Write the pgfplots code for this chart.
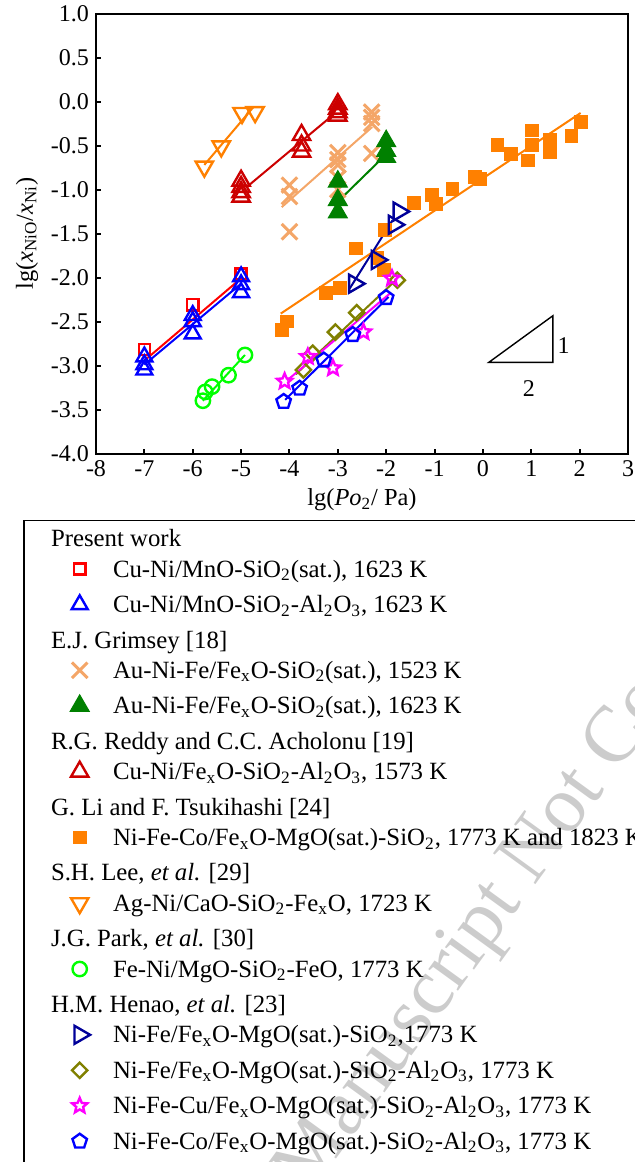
\documentclass[border=0pt]{standalone}
\usepackage{fontspec}
\setmainfont{Liberation Serif}
\usepackage{pgfplots}
\pgfplotsset{compat=1.18}
\usetikzlibrary{plotmarks}

\definecolor{cRed}{RGB}{255,0,0}
\definecolor{cBlue}{RGB}{0,0,255}
\definecolor{cSand}{RGB}{244,166,104}
\definecolor{cGreen}{RGB}{0,128,0}
\definecolor{cDkRed}{RGB}{204,0,0}
\definecolor{cOrange}{RGB}{255,128,0}
\definecolor{cLime}{RGB}{0,255,0}
\definecolor{cNavy}{RGB}{0,0,153}
\definecolor{cOlive}{RGB}{128,128,0}
\definecolor{cMag}{RGB}{255,0,255}

% outlined five-point star
\pgfdeclareplotmark{ostar}{%
  \pgfpathmoveto{\pgfqpointpolar{90}{\pgfplotmarksize}}%
  \pgfpathlineto{\pgfqpointpolar{126}{0.45\pgfplotmarksize}}%
  \pgfpathlineto{\pgfqpointpolar{162}{\pgfplotmarksize}}%
  \pgfpathlineto{\pgfqpointpolar{198}{0.45\pgfplotmarksize}}%
  \pgfpathlineto{\pgfqpointpolar{234}{\pgfplotmarksize}}%
  \pgfpathlineto{\pgfqpointpolar{270}{0.45\pgfplotmarksize}}%
  \pgfpathlineto{\pgfqpointpolar{306}{\pgfplotmarksize}}%
  \pgfpathlineto{\pgfqpointpolar{342}{0.45\pgfplotmarksize}}%
  \pgfpathlineto{\pgfqpointpolar{18}{\pgfplotmarksize}}%
  \pgfpathlineto{\pgfqpointpolar{54}{0.45\pgfplotmarksize}}%
  \pgfpathclose\pgfusepathqstroke}

\pgfplotsset{
  mk/.style={only marks, line width=1.2pt,
    legend image code/.code={\path[draw=none,fill=none] (0pt,0pt) -- (42.5pt,0pt);
      \draw[##1,overlay] plot coordinates {(27.85pt,4pt)};}},
  fit/.style={forget plot, no markers, line width=1pt},
}
\newcommand{\head}[1]{\addlegendimage{empty legend}\addlegendentry[text depth=2.4pt]{\hspace*{-31pt}#1}}

\begin{document}
\begin{tikzpicture}
\useasboundingbox (0,0) rectangle (317pt,-581pt);
% watermark of the source page
\node[rotate=54, text=black!20, font=\fontsize{40}{40}\selectfont] at (230.6pt,-477.6pt) {Accepted Manuscript Not Copyedited};

\begin{axis}[
  at={(48pt,-226.75pt)}, anchor=south west,
  scale only axis, width=266pt, height=220pt,
  xmin=-8, xmax=3, ymin=-4, ymax=1,
  xtick={-8,-7,-6,-5,-4,-3,-2,-1,0,1,2,3},
  ytick={-4,-3.5,-3,-2.5,-2,-1.5,-1,-0.5,0,0.5,1},
  tick align=inside, xtick pos=bottom, ytick pos=left,
  major tick length=2.5pt,
  axis line style={line width=1pt},
  tick style={line width=1pt, black},
  tick label style={font=\fontsize{12}{14}\selectfont},
  xticklabel style={/pgf/number format/assume math mode=true},
  yticklabel style={/pgf/number format/.cd, fixed, fixed zerofill, precision=1, assume math mode=true},
  ylabel={lg(\textit{x}\textsubscript{NiO}/\textit{x}\textsubscript{Ni})},
  xlabel={lg(\textit{Po}\textsubscript{2}/ Pa)},
  every axis y label/.style={at={(axis description cs:-0.1297,0.5)}, rotate=90, anchor=center, font=\fontsize{12.2}{14}\selectfont},
  every axis x label/.style={at={(axis description cs:0.5,-0.1057)}, anchor=center, font=\fontsize{12.2}{14}\selectfont},
  legend style={at={(axis description cs:-0.13665,-0.15114)}, anchor=north west,
    draw=black, line width=0.7pt, fill=none,
    inner xsep=0pt, inner ysep=4pt, row sep=3.75pt, column sep=0pt,
    font=\fontsize{12.4}{14}\selectfont,
    cells={anchor=base west},
    nodes={text height=9pt, text depth=5pt, inner xsep=2pt, inner ysep=0pt}},
]

\head{Present work}
\addplot[mk, color=cRed, mark=square, mark size=2.8pt] coordinates {(-7,-2.82) (-6,-2.31) (-5,-1.96)};
\addlegendentry{Cu-Ni/MnO-SiO\textsubscript{2}(sat.), 1623 K}
\addplot[mk, color=cBlue, mark=triangle, mark size=4.6pt] coordinates {
  (-7,-2.90) (-7,-2.99) (-7,-3.05) (-6,-2.43) (-6,-2.50) (-6,-2.64) (-5,-1.99) (-5,-2.08) (-5,-2.17)};
\addlegendentry{Cu-Ni/MnO-SiO\textsubscript{2}-Al\textsubscript{2}O\textsubscript{3}, 1623 K}

\head{E.J. Grimsey [18]}
\addplot[mk, color=cSand, mark=x, mark size=5.5pt, line width=1.5pt] coordinates {
  (-4,-0.95) (-4,-1.08) (-4,-1.48) (-3,-0.58) (-3,-0.66) (-3,-0.72) (-3,-0.87) (-3,-1.00)
  (-2.3,-0.12) (-2.3,-0.18) (-2.3,-0.25) (-2.3,-0.59)};
\addlegendentry{Au-Ni-Fe/Fe\textsubscript{x}O-SiO\textsubscript{2}(sat.), 1523 K}
\addplot[mk, color=cGreen, mark=triangle*, mark size=5.5pt, line width=0.5pt] coordinates {
  (-3,-0.91) (-3,-1.12) (-3,-1.26) (-2,-0.45) (-2,-0.56) (-2,-0.63)};
\addlegendentry{Au-Ni-Fe/Fe\textsubscript{x}O-SiO\textsubscript{2}(sat.), 1623 K}

\head{R.G. Reddy and C.C. Acholonu [19]}
\addplot[mk, color=cDkRed, mark=triangle, mark size=5pt] coordinates {
  (-5,-0.90) (-5,-0.97) (-5,-1.03) (-5,-1.08) (-3.75,-0.38) (-3.75,-0.50) (-3.75,-0.57)
  (-3,-0.03) (-3,-0.08) (-3,-0.12) (-3,-0.16)};
\addlegendentry{Cu-Ni/Fe\textsubscript{x}O-SiO\textsubscript{2}-Al\textsubscript{2}O\textsubscript{3}, 1573 K}

\head{G. Li and F. Tsukihashi [24]}
\addplot[mk, color=cOrange, mark=square*, mark size=3.2pt, line width=0.5pt] coordinates {
  (0.30,-0.49) (0.58,-0.60) (1.01,-0.33) (1.02,-0.49) (0.94,-0.67) (1.39,-0.44) (1.39,-0.57)
  (1.83,-0.39) (2.02,-0.23) (-0.05,-0.88) (-0.17,-0.86) (-0.63,-0.99) (-1.06,-1.06) (-0.97,-1.16)
  (-1.42,-1.15) (-2.03,-1.46) (-2.62,-1.67) (-2.18,-1.78) (-2.05,-1.91) (-2.96,-2.12) (-3.24,-2.18)
  (-4.05,-2.50) (-4.16,-2.60)};
\addlegendentry{Ni-Fe-Co/Fe\textsubscript{x}O-MgO(sat.)-SiO\textsubscript{2}, 1773 K and 1823 K}

\head{S.H. Lee, \textit{et al.} [29]}
\addplot[mk, color=cOrange, mark=triangle, mark options={rotate=180}, mark size=5pt] coordinates {
  (-5.76,-0.74) (-5.41,-0.51) (-4.98,-0.13) (-4.71,-0.12)};
\addlegendentry{Ag-Ni/CaO-SiO\textsubscript{2}-Fe\textsubscript{x}O, 1723 K}

\head{J.G. Park, \textit{et al.} [30]}
\addplot[mk, color=cLime, mark=o, mark size=3.6pt] coordinates {
  (-5.79,-3.40) (-5.74,-3.30) (-5.60,-3.24) (-5.26,-3.11) (-4.92,-2.88)};
\addlegendentry{Fe-Ni/MgO-SiO\textsubscript{2}-FeO, 1773 K}

\head{H.M. Henao, \textit{et al.} [23]}
\addplot[mk, color=cNavy, mark=triangle, mark options={rotate=-90}, mark size=5.2pt] coordinates {
  (-1.74,-1.25) (-1.84,-1.40) (-2.19,-1.80) (-2.66,-2.07)};
\addlegendentry{Ni-Fe/Fe\textsubscript{x}O-MgO(sat.)-SiO\textsubscript{2},1773 K}
\addplot[mk, color=cOlive, mark=square, mark options={rotate=45}, mark size=2.7pt] coordinates {
  (-3.71,-3.05) (-3.52,-2.86) (-3.05,-2.62) (-2.61,-2.40) (-1.77,-2.03)};
\addlegendentry{Ni-Fe/Fe\textsubscript{x}O-MgO(sat.)-SiO\textsubscript{2}-Al\textsubscript{2}O\textsubscript{3}, 1773 K}
\addplot[mk, color=cMag, mark=ostar, mark size=4pt] coordinates {
  (-4.10,-3.18) (-3.62,-2.90) (-3.10,-3.03) (-2.47,-2.62) (-1.88,-2.01)};
\addlegendentry{Ni-Fe-Cu/Fe\textsubscript{x}O-MgO(sat.)-SiO\textsubscript{2}-Al\textsubscript{2}O\textsubscript{3}, 1773 K}
\addplot[mk, color=cBlue, mark=pentagon, mark size=3.8pt] coordinates {
  (-4.12,-3.41) (-3.79,-3.26) (-3.29,-2.94) (-2.69,-2.65) (-2.00,-2.23)};
\addlegendentry[text depth=14pt]{Ni-Fe-Co/Fe\textsubscript{x}O-MgO(sat.)-SiO\textsubscript{2}-Al\textsubscript{2}O\textsubscript{3}, 1773 K}

% fitted lines
\addplot[fit, color=cRed] coordinates {(-6.99,-2.94) (-4.98,-2.00)};
\addplot[fit, color=cBlue] coordinates {(-7.00,-2.99) (-5.00,-2.07)};
\addplot[fit, color=cSand] coordinates {(-4.16,-1.20) (-2.29,-0.29)};
\addplot[fit, color=cGreen] coordinates {(-2.93,-1.10) (-2.00,-0.60)};
\addplot[fit, color=cDkRed] coordinates {(-4.88,-0.97) (-3.05,-0.13)};
\addplot[fit, color=cOrange] coordinates {(-4.18,-2.41) (2.02,-0.13)};
\addplot[fit, color=cOrange] coordinates {(-5.76,-0.72) (-4.74,-0.06)};
\addplot[fit, color=cLime] coordinates {(-5.79,-3.40) (-4.92,-2.88)};
\addplot[fit, color=cNavy] coordinates {(-2.76,-2.13) (-1.87,-1.35)};
\addplot[fit, color=cOlive] coordinates {(-3.87,-3.10) (-1.78,-2.02)};
\addplot[fit, color=cMag] coordinates {(-4.05,-3.17) (-1.92,-2.18)};
\addplot[fit, color=cBlue] coordinates {(-4.09,-3.39) (-1.95,-2.22)};

% slope 1:2 guide
\draw[line width=0.7pt] (axis cs:0.122,-2.964) -- (axis cs:1.447,-2.434) -- (axis cs:1.447,-2.964) -- cycle;
\node[font=\fontsize{12}{14}\selectfont] at (axis cs:1.67,-2.77) {1};
\node[font=\fontsize{12}{14}\selectfont] at (axis cs:0.95,-3.26) {2};
\end{axis}
\end{tikzpicture}
\end{document}
